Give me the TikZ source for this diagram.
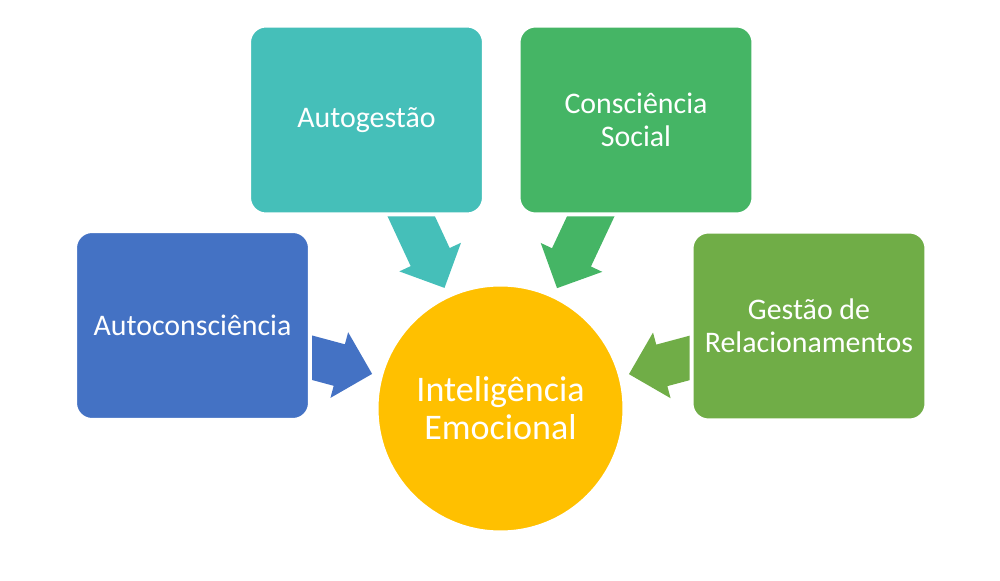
\documentclass[tikz,border=0pt]{standalone}
\usepackage{fontspec}
\setmainfont{Carlito}
\usetikzlibrary{shapes, calc, backgrounds}

\definecolor{cblue}{HTML}{4472C4}
\definecolor{cteal}{HTML}{45BFB9}
\definecolor{cgreen}{HTML}{45B565}
\definecolor{cleaf}{HTML}{70AD47}
\definecolor{cgold}{HTML}{FFC000}

\begin{document}
\begin{tikzpicture}[x=0.02cm, y=-0.02cm,
			card/.style={draw=white, line width=0.8mm, rounded corners=0.34cm, minimum width=4.7cm, minimum height=3.78cm, inner sep=0pt, text=white, align=center, font=\fontsize{17}{18.8}\selectfont},
			hub/.style={circle, draw=white, line width=0.8mm, minimum size=4.96cm, inner sep=0pt, text=white, align=center, font=\fontsize{20.5}{21.6}\selectfont}]
			\useasboundingbox (0,0) rectangle (1000,581);
			\node[hub, fill=cgold] (ie) at (500.5,408.5) {Inteligência\\Emocional};
			\node[card, fill=cblue] (ac) at (192.5,325.5) {Autoconsciência};
			\node[card, fill=cteal] (ag) at (366.5,120) {Autogestão};
			\node[card, fill=cgreen] (cs) at (636,120) {Consciência\\Social};
			\node[card, fill=cleaf] (gr) at (809,326) {Gestão de\\Relacionamentos};
			% Blockpfeile hinter den Kästen
			\begin{pgfonlayer}{background}
				\foreach \from/\col in {ac/cblue, ag/cteal, cs/cgreen, gr/cleaf}{
					\coordinate (tip) at ($(ie.center)!2.66cm!(\from.center)$);
					\coordinate (base) at ($(ie.center)!3.34cm!(\from.center)$);
					\fill[\col] ($(\from.center)!4.3mm!90:(ie.center)$) -- ($(base)!4.3mm!90:(ie.center)$)
						-- ($(base)!6.8mm!90:(ie.center)$) -- (tip) -- ($(base)!6.8mm!-90:(ie.center)$)
						-- ($(base)!4.3mm!-90:(ie.center)$) -- ($(\from.center)!4.3mm!-90:(ie.center)$) -- cycle;
				}
			\end{pgfonlayer}
		\end{tikzpicture}
\end{document}
